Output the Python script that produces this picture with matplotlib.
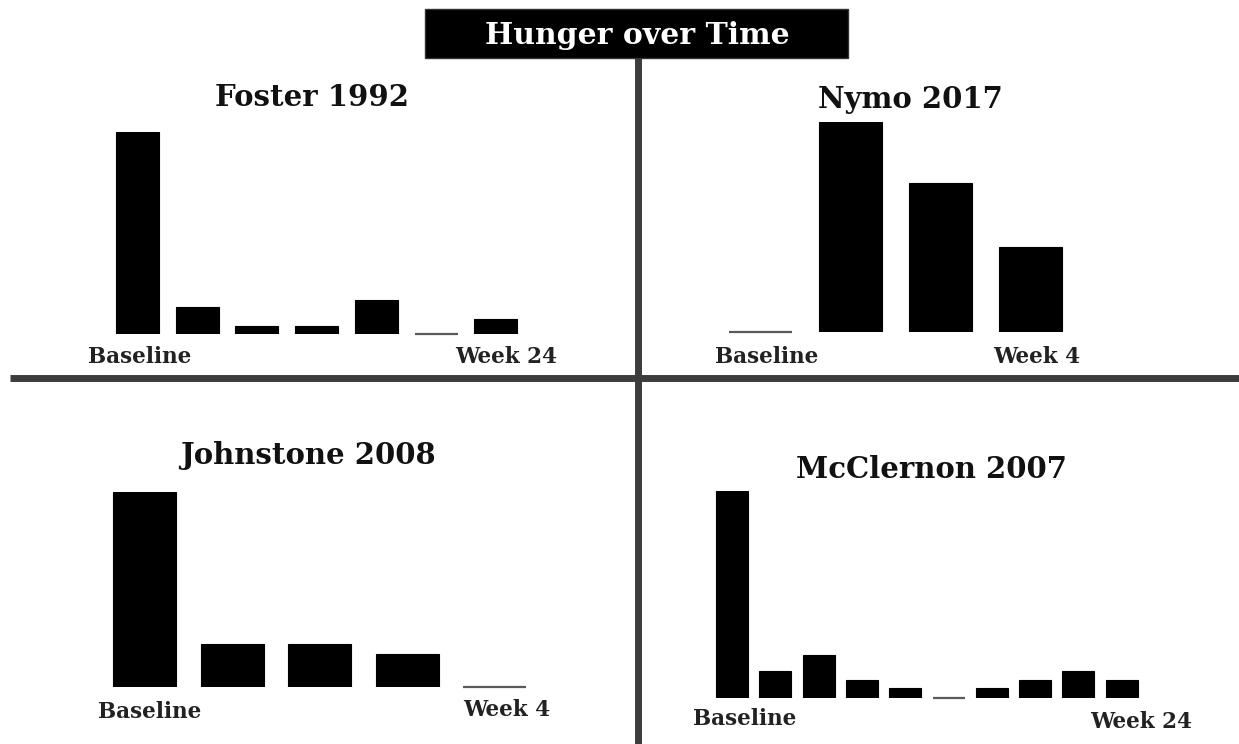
import matplotlib
matplotlib.use("Agg")
import matplotlib.pyplot as plt
from matplotlib.patches import Rectangle

W, H = 1239, 744
DPI = 100

title = "Hunger over Time"

foster_title = "Foster 1992"
foster_values = [100, 13.4, 4, 4, 16.8, 0, 7.4]
foster_labels = ["Baseline", "Week 24"]

nymo_title = "Nymo 2017"
nymo_values = [0, 100, 71, 40.5]
nymo_labels = ["Baseline", "Week 4"]

johnstone_title = "Johnstone 2008"
johnstone_values = [100, 22, 22, 17, 0]
johnstone_labels = ["Baseline", "Week 4"]

mcclernon_title = "McClernon 2007"
mcclernon_values = [100, 13, 21, 8.7, 4.8, 0, 4.8, 8.7, 13, 8.7]
mcclernon_labels = ["Baseline", "Week 24"]

FONT = "DejaVu Serif"

fig = plt.figure(figsize=(W / DPI, H / DPI), dpi=DPI)
fig.patch.set_facecolor("white")

def fx(px):
    return px / W

def fy(py):
    return 1 - py / H

def panel(values, first_center, spacing, width_px, baseline_py, max_px,
          title_txt, title_xy, labels, lab_left_xy, lab_right_xy):
    n = len(values)
    left = first_center - spacing / 2
    right = first_center + spacing * (n - 0.5)
    top = baseline_py - max_px
    ax = fig.add_axes([fx(left), fy(baseline_py), fx(right - left), (baseline_py - top) / H])
    ax.set_xlim(-0.5, n - 0.5)
    ax.set_ylim(0, max(values))
    ax.axis("off")
    w = width_px / spacing
    for i, v in enumerate(values):
        if v > 0:
            ax.bar(i, v, width=w, color="black", edgecolor="black", linewidth=0.8)
        else:
            ax.bar(i, v, width=w, color="black", edgecolor="#5a5a5a", linewidth=1.6,
                   clip_on=False)
    fig.text(fx(title_xy[0]), fy(title_xy[1]), title_txt, ha="center", va="center",
             fontsize=21, fontweight="bold", family=FONT, color="#111111")
    fig.text(fx(lab_left_xy[0]), fy(lab_left_xy[1]), labels[0], ha="left", va="center",
             fontsize=15.5, fontweight="bold", family=FONT, color="#222222")
    fig.text(fx(lab_right_xy[0]), fy(lab_right_xy[1]), labels[1], ha="right", va="center",
             fontsize=15.5, fontweight="bold", family=FONT, color="#222222")
    return ax

panel(foster_values, 137.5, 59.7, 43, 334, 202, foster_title, (312, 97),
      foster_labels, (88, 357), (557, 357))
panel(nymo_values, 760.5, 90, 63, 332, 210, nymo_title, (910, 99),
      nymo_labels, (715, 357), (1080, 357))
panel(johnstone_values, 144.5, 87.5, 63, 687, 195, johnstone_title, (308, 455),
      johnstone_labels, (98, 712), (550, 710))
panel(mcclernon_values, 732, 43.3, 32, 698, 207, mcclernon_title, (932, 470),
      mcclernon_labels, (693, 719), (1192, 722))

# divider lines
line_ax = fig.add_axes([0, 0, 1, 1], zorder=-1)
line_ax.set_xlim(0, W)
line_ax.set_ylim(H, 0)
line_ax.axis("off")
line_ax.plot([10, W], [378, 378], color="#3c3c3c", linewidth=5, solid_capstyle="butt")
line_ax.plot([638, 638], [58, H], color="#3c3c3c", linewidth=5, solid_capstyle="butt")

# title box
top_ax = fig.add_axes([0, 0, 1, 1], zorder=5)
top_ax.set_xlim(0, W)
top_ax.set_ylim(H, 0)
top_ax.axis("off")
top_ax.add_patch(Rectangle((425, 9), 423, 49, facecolor="black", edgecolor="#333333", linewidth=1))
top_ax.text(637, 35, title, ha="center", va="center", color="white",
            fontsize=21.5, fontweight="bold", family=FONT)

fig.savefig("out.png", dpi=DPI, facecolor="white")
